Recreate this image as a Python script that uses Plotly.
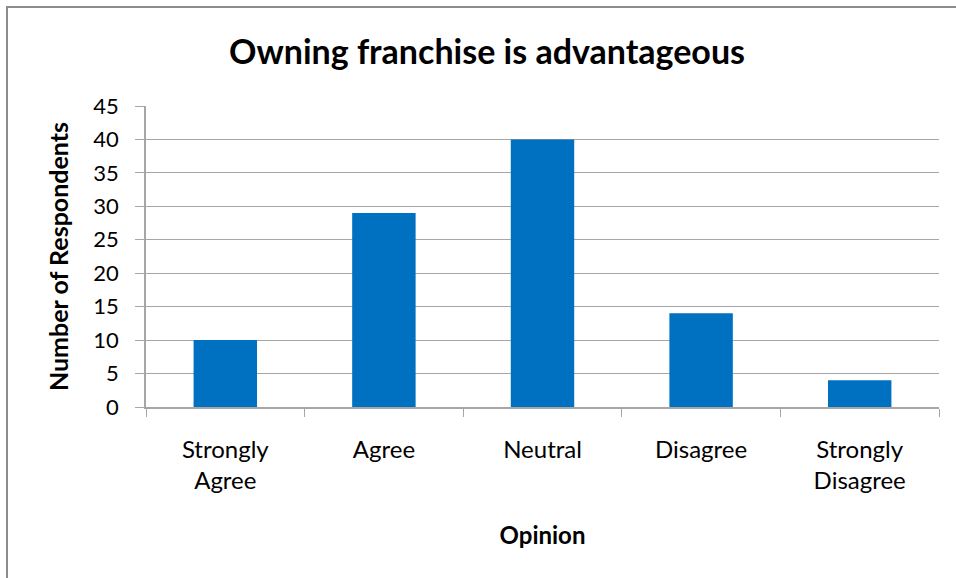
import plotly.graph_objects as go

categories = ["Strongly<br>Agree", "Agree", "Neutral", "Disagree", "Strongly<br>Disagree"]
respondents = [10, 29, 40, 14, 4]
y_ticks = [0, 5, 10, 15, 20, 25, 30, 35, 40, 45]

W, H = 956, 578
ML, MR, MT, MB = 146, 17, 106, 171
FONT = "Lato"
GRID = "#A6A6A6"

fig = go.Figure(
    go.Bar(
        x=categories,
        y=respondents,
        marker=dict(color="#0070C0", line=dict(width=0)),
        width=0.4,
    )
)

fig.update_layout(
    width=W,
    height=H,
    margin=dict(l=ML, r=MR, t=MT, b=MB),
    paper_bgcolor="white",
    plot_bgcolor="white",
    showlegend=False,
    font=dict(family=FONT, color="black", size=22),
    title=dict(
        text="<b>Owning franchise is advantageous</b>",
        font=dict(family=FONT, size=34, color="black"),
        x=487 / W,
        xref="container",
        xanchor="center",
        y=1 - 52 / H,
        yref="container",
        yanchor="middle",
    ),
)

fig.update_xaxes(
    showgrid=False,
    showline=True,
    linecolor=GRID,
    linewidth=1.5,
    ticks="outside",
    tickson="boundaries",
    ticklen=8,
    tickcolor=GRID,
    tickfont=dict(size=24),
    ticklabelstandoff=20,
    title=dict(text="<b>Opinion</b>", font=dict(size=24), standoff=34),
)

fig.update_yaxes(
    range=[0, 45],
    tickvals=y_ticks,
    showgrid=True,
    gridcolor=GRID,
    gridwidth=1,
    showline=True,
    linecolor=GRID,
    linewidth=1.5,
    ticks="outside",
    ticklen=9,
    tickcolor=GRID,
    tickfont=dict(size=22),
    ticklabelstandoff=12,
    zeroline=False,
    title=dict(text="<b>Number of Respondents</b>", font=dict(size=25), standoff=18),
)

# outer chart-area border
fig.add_shape(
    type="rect",
    xref="paper",
    yref="paper",
    x0=(7 - ML) / (W - ML - MR),
    x1=(W + 20 - ML) / (W - ML - MR),
    y0=-(H + 20 - MT - (H - MT - MB)) / (H - MT - MB),
    y1=1 + (MT - 7) / (H - MT - MB),
    line=dict(color="#8C8C8C", width=2),
    fillcolor="rgba(0,0,0,0)",
    layer="below",
)

fig.write_html("out.html")
